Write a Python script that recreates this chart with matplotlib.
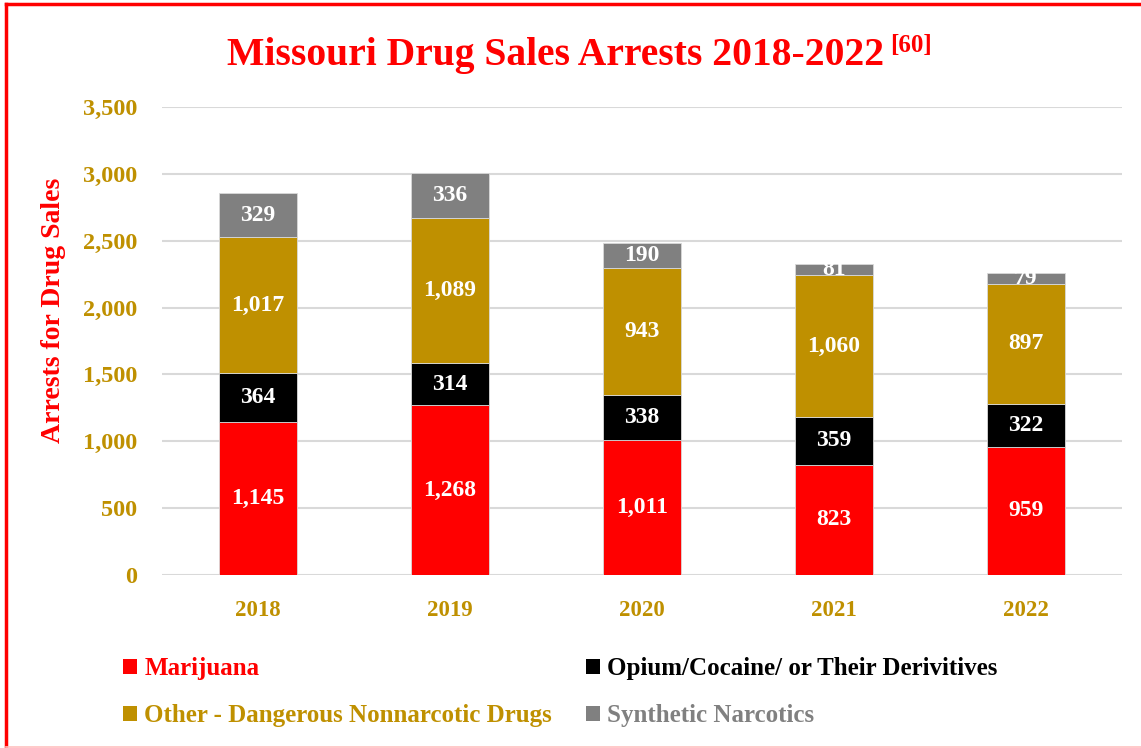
import matplotlib.pyplot as plt
import numpy as np
from matplotlib.patches import Patch
from matplotlib.lines import Line2D
from matplotlib.ticker import FuncFormatter

plt.rcParams['font.family'] = ['Liberation Serif', 'DejaVu Serif']

years = ["2018", "2019", "2020", "2021", "2022"]
marijuana = [1145, 1268, 1011, 823, 959]
opium_cocaine = [364, 314, 338, 359, 322]
other_dangerous = [1017, 1089, 943, 1060, 897]
synthetic = [329, 336, 190, 81, 79]

series_names = ["Marijuana", "Opium/Cocaine/ or Their Derivitives",
                "Other - Dangerous Nonnarcotic Drugs", "Synthetic Narcotics"]
colors = ["#FF0000", "#000000", "#BF9000", "#808080"]
gold = "#BF9000"

fig = plt.figure(figsize=(11.41, 7.48), dpi=100)
ax = fig.add_axes([0.142, 0.2313, 0.841, 0.6257])

x = np.arange(len(years))
bottom = np.zeros(len(years))
handles = []
for vals, name, col in zip([marijuana, opium_cocaine, other_dangerous, synthetic], series_names, colors):
    bars = ax.bar(x, vals, width=0.405, bottom=bottom, color=col,
                  edgecolor="#D9D9D9", linewidth=0.6, zorder=3)
    ax.bar_label(bars, labels=[f"{v:,}" for v in vals], label_type="center",
                 color="white", fontsize=17, fontweight="bold", zorder=4)
    bottom += np.array(vals)
    handles.append(Patch(facecolor=col, edgecolor="none", label=name))

ax.set_xlim(-0.5, 4.5)
ax.set_ylim(0, 3500)
ax.set_yticks(np.arange(0, 3501, 500))
ax.yaxis.set_major_formatter(FuncFormatter(lambda v, p: f"{v:,.0f}"))
ax.set_xticks(x)
ax.set_xticklabels(years)
ax.grid(axis="y", color="#D9D9D9", linewidth=1.5, zorder=0)
ax.set_axisbelow(True)
for s in ax.spines.values():
    s.set_visible(False)
ax.tick_params(axis="y", length=0, labelsize=17.5, labelcolor=gold, pad=18)
ax.tick_params(axis="x", length=0, labelsize=16.5, labelcolor=gold, pad=18)
for lbl in ax.get_xticklabels() + ax.get_yticklabels():
    lbl.set_fontweight("bold")

ax.set_ylabel("Arrests for Drug Sales", color="#FF0000", fontsize=20,
              fontweight="bold")
ax.yaxis.set_label_coords(-0.1, 0.566)

# title with a small raised reference mark after it
title = fig.text(0.487, 0.913, "Missouri Drug Sales Arrests 2018-2022", color="#FF0000",
                 fontsize=28.5, fontweight="bold", ha="center", va="baseline")
fig.canvas.draw()
tb = title.get_window_extent().transformed(fig.transFigure.inverted())
fig.text(tb.x1 + 0.005, 0.931, "[60]", color="#FF0000", fontsize=18,
         fontweight="bold", ha="left", va="baseline")

# legend fills by column, so order the handles to get two rows of two
order = [0, 2, 1, 3]
leg = fig.legend(handles=[handles[i] for i in order], ncol=2, loc="upper left",
                 bbox_to_anchor=(0.097, 0.138), frameon=False,
                 prop={"size": 18, "weight": "bold"},
                 handlelength=0.55, handleheight=0.55, handletextpad=0.3,
                 columnspacing=1.35, labelspacing=0.95, borderpad=0)
for txt, i in zip(leg.get_texts(), order):
    txt.set_color(colors[i])

# frame lines around the figure
fig.add_artist(Line2D([0.005, 0.005], [0.0, 0.995], color="#FF0000", linewidth=2.5))
fig.add_artist(Line2D([0.005, 1.0], [0.995, 0.995], color="#FF0000", linewidth=2.5))
fig.add_artist(Line2D([0.005, 1.0], [0.002, 0.002], color="#FFC0C0", linewidth=1.2))

fig.savefig("out.png", dpi=100)
